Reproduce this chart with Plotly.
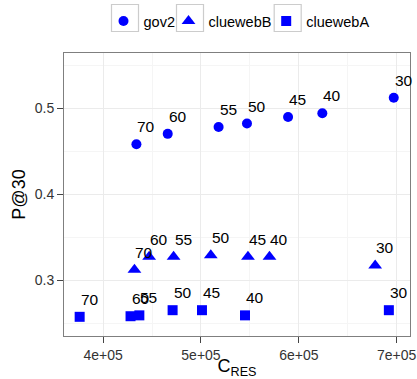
import plotly.graph_objects as go

gov2_x = [4.34e5, 4.66e5, 5.18e5, 5.47e5, 5.89e5, 6.24e5, 6.97e5]
gov2_y = [0.458, 0.470, 0.478, 0.482, 0.4895, 0.494, 0.512]
gov2_lab = ["70", "60", "55", "50", "45", "40", "30"]

cwB_x = [4.32e5, 4.47e5, 4.72e5, 5.10e5, 5.48e5, 5.70e5, 6.78e5]
cwB_y = [0.312, 0.327, 0.327, 0.329, 0.327, 0.327, 0.317]
cwB_lab = ["70", "60", "55", "50", "45", "40", "30"]

cwA_x = [3.76e5, 4.28e5, 4.37e5, 4.71e5, 5.01e5, 5.45e5, 6.92e5]
cwA_y = [0.2573, 0.258, 0.259, 0.265, 0.265, 0.259, 0.265]
cwA_lab = ["70", "60", "55", "50", "45", "40", "30"]

x_tickvals = [4e5, 5e5, 6e5, 7e5]
x_ticktext = ["4e+05", "5e+05", "6e+05", "7e+05"]
y_tickvals = [0.3, 0.4, 0.5]
y_ticktext = ["0.3", "0.4", "0.5"]

FONT = "Liberation Sans, Arial, sans-serif"
W, H = 417, 379
PL, PR, PT, PB = 64, 410, 53, 336
KEY_CX = [125, 190, 287.7]   # legend key centres (px)
KEY_CY = 18

fig = go.Figure()
series = [
    ("gov2", gov2_x, gov2_y, gov2_lab, "circle", 10),
    ("cluewebB", cwB_x, cwB_y, cwB_lab, "triangle-up", 12),
    ("cluewebA", cwA_x, cwA_y, cwA_lab, "square", 10),
]
legend_names = ["legend", "legend2", "legend3"]
for i, (name, xs, ys, labs, sym, sz) in enumerate(series):
    fig.add_trace(go.Scatter(x=xs, y=ys, mode="markers", name=name,
                             legend=legend_names[i],
                             marker=dict(symbol=sym, size=sz, color="#0000ff")))
    for xv, yv, t in zip(xs, ys, labs):
        fig.add_annotation(x=xv, y=yv, text=t, showarrow=False,
                           xanchor="left", yanchor="bottom", xshift=-1, yshift=7,
                           font=dict(size=15.5, color="black", family=FONT))

axis_common = dict(showline=True, linecolor="#7f7f7f", linewidth=1, mirror=True,
                   showgrid=True, gridcolor="#ebebeb", gridwidth=1,
                   ticks="outside", ticklen=6, tickcolor="#444444",
                   tickfont=dict(size=14, color="#333333", family=FONT),
                   zeroline=False, automargin=False)
fig.update_xaxes(range=[3.6e5, 7.136e5], tickvals=x_tickvals, ticktext=x_ticktext,
                 minor=dict(dtick=5e4, tick0=3.5e5, showgrid=True, gridcolor="#f5f5f5"),
                 title=dict(text="C<sub>RES</sub>", font=dict(size=18, color="black", family=FONT), standoff=2),
                 **axis_common)
fig.update_yaxes(range=[0.235, 0.564], tickvals=y_tickvals, ticktext=y_ticktext,
                 minor=dict(dtick=0.05, tick0=0.25, showgrid=True, gridcolor="#f5f5f5"),
                 title=dict(text="P@30", font=dict(size=18, color="black", family=FONT), standoff=4),
                 **axis_common)

def px2paper(px, py):
    return (px - PL) / (PR - PL), (PB - py) / (PB - PT)
for cx in KEY_CX:
    x0, y0 = px2paper(cx - 13.5, KEY_CY + 13.5)
    x1, y1 = px2paper(cx + 13.5, KEY_CY - 13.5)
    fig.add_shape(type="rect", xref="paper", yref="paper", x0=x0, x1=x1, y0=y0, y1=y1,
                  line=dict(color="#cccccc", width=1.2), fillcolor="rgba(0,0,0,0)", layer="above")

legends = {}
for i, cx in enumerate(KEY_CX):
    legends[legend_names[i]] = dict(
        orientation="h", xref="container", yref="container",
        x=(cx - 21.5) / W, xanchor="left", y=1 - 5 / H, yanchor="top",
        font=dict(size=14.5, color="black", family=FONT), bgcolor="rgba(0,0,0,0)")

fig.update_layout(
    width=W, height=H,
    margin=dict(l=PL, r=W - PR, t=PT, b=H - PB, autoexpand=False),
    plot_bgcolor="white", paper_bgcolor="white",
    font=dict(family=FONT),
    showlegend=True,
    **legends,
)
fig.write_html("out.html", config={"displayModeBar": False},
               post_script="document.body.style.margin='0px';")
